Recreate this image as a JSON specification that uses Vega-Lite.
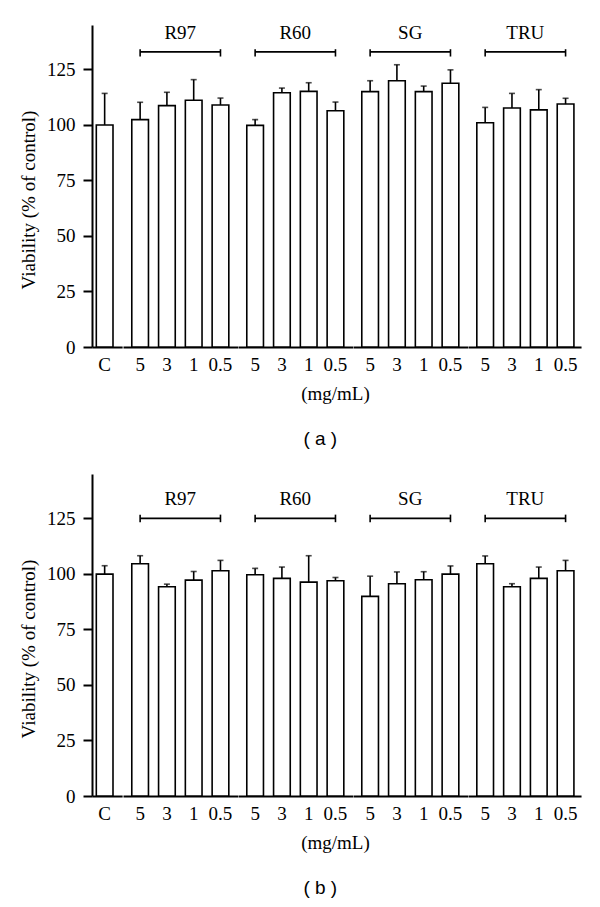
{
  "$schema": "https://vega.github.io/schema/vega-lite/v6.json",
  "padding": {"top": 23, "left": 19, "right": 0, "bottom": 0},
  "spacing": 25,
  "datasets": {
    "a": [
      {"group": "C", "dose": "C", "mean": 100.0, "upper": 114.2},
      {"group": "R97", "dose": "5", "mean": 102.4, "upper": 110.2},
      {"group": "R97", "dose": "3", "mean": 108.7, "upper": 114.7},
      {"group": "R97", "dose": "1", "mean": 111.1, "upper": 120.4},
      {"group": "R97", "dose": "0.5", "mean": 109.0, "upper": 112.1},
      {"group": "R60", "dose": "5", "mean": 99.8, "upper": 102.4},
      {"group": "R60", "dose": "3", "mean": 114.5, "upper": 116.6},
      {"group": "R60", "dose": "1", "mean": 115.1, "upper": 119.0},
      {"group": "R60", "dose": "0.5", "mean": 106.4, "upper": 110.3},
      {"group": "SG", "dose": "5", "mean": 115.0, "upper": 119.9},
      {"group": "SG", "dose": "3", "mean": 119.9, "upper": 127.1},
      {"group": "SG", "dose": "1", "mean": 115.0, "upper": 117.5},
      {"group": "SG", "dose": "0.5", "mean": 118.8, "upper": 124.8},
      {"group": "TRU", "dose": "5", "mean": 101.0, "upper": 107.9},
      {"group": "TRU", "dose": "3", "mean": 107.6, "upper": 114.2},
      {"group": "TRU", "dose": "1", "mean": 106.8, "upper": 115.9},
      {"group": "TRU", "dose": "0.5", "mean": 109.4, "upper": 112.0}
    ],
    "b": [
      {"group": "C", "dose": "C", "mean": 99.9, "upper": 103.7},
      {"group": "R97", "dose": "5", "mean": 104.6, "upper": 108.2},
      {"group": "R97", "dose": "3", "mean": 94.2, "upper": 95.4},
      {"group": "R97", "dose": "1", "mean": 97.2, "upper": 101.1},
      {"group": "R97", "dose": "0.5", "mean": 101.4, "upper": 106.1},
      {"group": "R60", "dose": "5", "mean": 99.6, "upper": 102.5},
      {"group": "R60", "dose": "3", "mean": 98.0, "upper": 103.1},
      {"group": "R60", "dose": "1", "mean": 96.3, "upper": 108.2},
      {"group": "R60", "dose": "0.5", "mean": 96.9, "upper": 98.4},
      {"group": "SG", "dose": "5", "mean": 89.9, "upper": 99.0},
      {"group": "SG", "dose": "3", "mean": 95.6, "upper": 100.9},
      {"group": "SG", "dose": "1", "mean": 97.4, "upper": 101.0},
      {"group": "SG", "dose": "0.5", "mean": 99.9, "upper": 103.6},
      {"group": "TRU", "dose": "5", "mean": 104.6, "upper": 108.1},
      {"group": "TRU", "dose": "3", "mean": 94.2, "upper": 95.6},
      {"group": "TRU", "dose": "1", "mean": 98.0, "upper": 103.1},
      {"group": "TRU", "dose": "0.5", "mean": 101.4, "upper": 106.1}
    ]
  },
  "vconcat": [
    {
      "spacing": 0,
      "bounds": "flush",
      "title": {"text": "( a )", "orient": "bottom", "anchor": "middle", "font": "Liberation Sans", "fontSize": 19, "fontWeight": "normal", "color": "black", "offset": 27, "dx": 20},
      "hconcat": [
        {
          "width": 30.15, "height": 322,
          "data": {"name": "a"},
          "transform": [{"filter": "datum.group === 'C'"}],
          "encoding": {"x": {"field": "dose", "type": "nominal", "scale": {"domain": ["C"], "paddingInner": 0, "paddingOuter": 0.403, "align": 0.32}, "axis": {"title": null}}},
          "layer": [
            {"mark": {"type": "bar", "fill": "white", "stroke": "black", "strokeWidth": 1.6},
             "encoding": {"y": {"field": "mean", "type": "quantitative", "scale": {"domain": [0, 145], "nice": false}, "axis": {"title": "Viability (% of control)", "values": [0, 25, 50, 75, 100, 125], "tickSize": 9, "labelPadding": 8, "titlePadding": 8, "titleY": 174.5}}}},
            {"mark": {"type": "rule", "color": "black", "strokeWidth": 1.6},
             "encoding": {"y": {"field": "mean", "type": "quantitative", "scale": {"domain": [0, 145], "nice": false}}, "y2": {"field": "upper"}}},
            {"mark": {"type": "tick", "orient": "horizontal", "color": "black", "size": 6, "thickness": 1.6},
             "encoding": {"y": {"field": "upper", "type": "quantitative", "scale": {"domain": [0, 145], "nice": false}}}}
          ]
        },
        {
          "width": 114.6, "height": 322,
          "data": {"name": "a"},
          "transform": [{"filter": "datum.group === 'R97'"}],
          "encoding": {"x": {"field": "dose", "type": "nominal", "scale": {"domain": ["5", "3", "1", "0.5"], "paddingInner": 0.377, "paddingOuter": 0.328}, "axis": {"title": null}}},
          "layer": [
            {"mark": {"type": "bar", "fill": "white", "stroke": "black", "strokeWidth": 1.6},
             "encoding": {"y": {"field": "mean", "type": "quantitative", "scale": {"domain": [0, 145], "nice": false}, "axis": null}}},
            {"mark": {"type": "rule", "color": "black", "strokeWidth": 1.6},
             "encoding": {"y": {"field": "mean", "type": "quantitative", "scale": {"domain": [0, 145], "nice": false}, "axis": null}, "y2": {"field": "upper"}}},
            {"mark": {"type": "tick", "orient": "horizontal", "color": "black", "size": 6, "thickness": 1.6},
             "encoding": {"y": {"field": "upper", "type": "quantitative", "scale": {"domain": [0, 145], "nice": false}, "axis": null}}},
            {"transform": [{"filter": "datum.dose === '5' || datum.dose === '0.5'"}],
             "mark": {"type": "line", "color": "black", "strokeWidth": 1.6},
             "encoding": {"y": {"datum": 132.9, "type": "quantitative", "scale": {"domain": [0, 145], "nice": false}, "axis": null}}},
            {"transform": [{"filter": "datum.dose === '5' || datum.dose === '0.5'"}],
             "mark": {"type": "rule", "color": "black", "strokeWidth": 1.6},
             "encoding": {"y": {"datum": 130.8, "type": "quantitative", "scale": {"domain": [0, 145], "nice": false}, "axis": null}, "y2": {"datum": 134.1}}},
            {"transform": [{"filter": "datum.dose === '3'"}],
             "mark": {"type": "text", "font": "Liberation Serif", "fontSize": 19, "baseline": "middle", "color": "black"},
             "encoding": {"x": {"field": "dose", "type": "nominal", "bandPosition": 1.3, "scale": {"domain": ["5", "3", "1", "0.5"]}}, "y": {"datum": 141.4, "type": "quantitative", "scale": {"domain": [0, 145], "nice": false}, "axis": null}, "text": {"field": "group"}}}
          ]
        },
        {
          "width": 114.6, "height": 322,
          "data": {"name": "a"},
          "transform": [{"filter": "datum.group === 'R60'"}],
          "encoding": {"x": {"field": "dose", "type": "nominal", "scale": {"domain": ["5", "3", "1", "0.5"], "paddingInner": 0.377, "paddingOuter": 0.328}, "axis": {"title": "(mg/mL)", "titleX": 97, "titlePadding": 10}}},
          "layer": [
            {"mark": {"type": "bar", "fill": "white", "stroke": "black", "strokeWidth": 1.6},
             "encoding": {"y": {"field": "mean", "type": "quantitative", "scale": {"domain": [0, 145], "nice": false}, "axis": null}}},
            {"mark": {"type": "rule", "color": "black", "strokeWidth": 1.6},
             "encoding": {"y": {"field": "mean", "type": "quantitative", "scale": {"domain": [0, 145], "nice": false}, "axis": null}, "y2": {"field": "upper"}}},
            {"mark": {"type": "tick", "orient": "horizontal", "color": "black", "size": 6, "thickness": 1.6},
             "encoding": {"y": {"field": "upper", "type": "quantitative", "scale": {"domain": [0, 145], "nice": false}, "axis": null}}},
            {"transform": [{"filter": "datum.dose === '5' || datum.dose === '0.5'"}],
             "mark": {"type": "line", "color": "black", "strokeWidth": 1.6},
             "encoding": {"y": {"datum": 132.9, "type": "quantitative", "scale": {"domain": [0, 145], "nice": false}, "axis": null}}},
            {"transform": [{"filter": "datum.dose === '5' || datum.dose === '0.5'"}],
             "mark": {"type": "rule", "color": "black", "strokeWidth": 1.6},
             "encoding": {"y": {"datum": 130.8, "type": "quantitative", "scale": {"domain": [0, 145], "nice": false}, "axis": null}, "y2": {"datum": 134.1}}},
            {"transform": [{"filter": "datum.dose === '3'"}],
             "mark": {"type": "text", "font": "Liberation Serif", "fontSize": 19, "baseline": "middle", "color": "black"},
             "encoding": {"x": {"field": "dose", "type": "nominal", "bandPosition": 1.3, "scale": {"domain": ["5", "3", "1", "0.5"]}}, "y": {"datum": 141.4, "type": "quantitative", "scale": {"domain": [0, 145], "nice": false}, "axis": null}, "text": {"field": "group"}}}
          ]
        },
        {
          "width": 114.6, "height": 322,
          "data": {"name": "a"},
          "transform": [{"filter": "datum.group === 'SG'"}],
          "encoding": {"x": {"field": "dose", "type": "nominal", "scale": {"domain": ["5", "3", "1", "0.5"], "paddingInner": 0.377, "paddingOuter": 0.328}, "axis": {"title": null}}},
          "layer": [
            {"mark": {"type": "bar", "fill": "white", "stroke": "black", "strokeWidth": 1.6},
             "encoding": {"y": {"field": "mean", "type": "quantitative", "scale": {"domain": [0, 145], "nice": false}, "axis": null}}},
            {"mark": {"type": "rule", "color": "black", "strokeWidth": 1.6},
             "encoding": {"y": {"field": "mean", "type": "quantitative", "scale": {"domain": [0, 145], "nice": false}, "axis": null}, "y2": {"field": "upper"}}},
            {"mark": {"type": "tick", "orient": "horizontal", "color": "black", "size": 6, "thickness": 1.6},
             "encoding": {"y": {"field": "upper", "type": "quantitative", "scale": {"domain": [0, 145], "nice": false}, "axis": null}}},
            {"transform": [{"filter": "datum.dose === '5' || datum.dose === '0.5'"}],
             "mark": {"type": "line", "color": "black", "strokeWidth": 1.6},
             "encoding": {"y": {"datum": 132.9, "type": "quantitative", "scale": {"domain": [0, 145], "nice": false}, "axis": null}}},
            {"transform": [{"filter": "datum.dose === '5' || datum.dose === '0.5'"}],
             "mark": {"type": "rule", "color": "black", "strokeWidth": 1.6},
             "encoding": {"y": {"datum": 130.8, "type": "quantitative", "scale": {"domain": [0, 145], "nice": false}, "axis": null}, "y2": {"datum": 134.1}}},
            {"transform": [{"filter": "datum.dose === '3'"}],
             "mark": {"type": "text", "font": "Liberation Serif", "fontSize": 19, "baseline": "middle", "color": "black"},
             "encoding": {"x": {"field": "dose", "type": "nominal", "bandPosition": 1.3, "scale": {"domain": ["5", "3", "1", "0.5"]}}, "y": {"datum": 141.4, "type": "quantitative", "scale": {"domain": [0, 145], "nice": false}, "axis": null}, "text": {"field": "group"}}}
          ]
        },
        {
          "width": 113.05, "height": 322,
          "data": {"name": "a"},
          "transform": [{"filter": "datum.group === 'TRU'"}],
          "encoding": {"x": {"field": "dose", "type": "nominal", "scale": {"domain": ["5", "3", "1", "0.5"], "paddingInner": 0.377, "paddingOuter": 0.2975, "align": 0.553}, "axis": {"title": null}}},
          "layer": [
            {"mark": {"type": "bar", "fill": "white", "stroke": "black", "strokeWidth": 1.6},
             "encoding": {"y": {"field": "mean", "type": "quantitative", "scale": {"domain": [0, 145], "nice": false}, "axis": null}}},
            {"mark": {"type": "rule", "color": "black", "strokeWidth": 1.6},
             "encoding": {"y": {"field": "mean", "type": "quantitative", "scale": {"domain": [0, 145], "nice": false}, "axis": null}, "y2": {"field": "upper"}}},
            {"mark": {"type": "tick", "orient": "horizontal", "color": "black", "size": 6, "thickness": 1.6},
             "encoding": {"y": {"field": "upper", "type": "quantitative", "scale": {"domain": [0, 145], "nice": false}, "axis": null}}},
            {"transform": [{"filter": "datum.dose === '5' || datum.dose === '0.5'"}],
             "mark": {"type": "line", "color": "black", "strokeWidth": 1.6},
             "encoding": {"y": {"datum": 132.9, "type": "quantitative", "scale": {"domain": [0, 145], "nice": false}, "axis": null}}},
            {"transform": [{"filter": "datum.dose === '5' || datum.dose === '0.5'"}],
             "mark": {"type": "rule", "color": "black", "strokeWidth": 1.6},
             "encoding": {"y": {"datum": 130.8, "type": "quantitative", "scale": {"domain": [0, 145], "nice": false}, "axis": null}, "y2": {"datum": 134.1}}},
            {"transform": [{"filter": "datum.dose === '3'"}],
             "mark": {"type": "text", "font": "Liberation Serif", "fontSize": 19, "baseline": "middle", "color": "black"},
             "encoding": {"x": {"field": "dose", "type": "nominal", "bandPosition": 1.3, "scale": {"domain": ["5", "3", "1", "0.5"]}}, "y": {"datum": 141.4, "type": "quantitative", "scale": {"domain": [0, 145], "nice": false}, "axis": null}, "text": {"field": "group"}}}
          ]
        }
      ]
    },
    {
      "spacing": 0,
      "bounds": "flush",
      "title": {"text": "( b )", "orient": "bottom", "anchor": "middle", "font": "Liberation Sans", "fontSize": 19, "fontWeight": "normal", "color": "black", "offset": 27, "dx": 20},
      "hconcat": [
        {
          "width": 30.15, "height": 322,
          "data": {"name": "b"},
          "transform": [{"filter": "datum.group === 'C'"}],
          "encoding": {"x": {"field": "dose", "type": "nominal", "scale": {"domain": ["C"], "paddingInner": 0, "paddingOuter": 0.403, "align": 0.32}, "axis": {"title": null}}},
          "layer": [
            {"mark": {"type": "bar", "fill": "white", "stroke": "black", "strokeWidth": 1.6},
             "encoding": {"y": {"field": "mean", "type": "quantitative", "scale": {"domain": [0, 145], "nice": false}, "axis": {"title": "Viability (% of control)", "values": [0, 25, 50, 75, 100, 125], "tickSize": 9, "labelPadding": 8, "titlePadding": 8, "titleY": 174.5}}}},
            {"mark": {"type": "rule", "color": "black", "strokeWidth": 1.6},
             "encoding": {"y": {"field": "mean", "type": "quantitative", "scale": {"domain": [0, 145], "nice": false}}, "y2": {"field": "upper"}}},
            {"mark": {"type": "tick", "orient": "horizontal", "color": "black", "size": 6, "thickness": 1.6},
             "encoding": {"y": {"field": "upper", "type": "quantitative", "scale": {"domain": [0, 145], "nice": false}}}}
          ]
        },
        {
          "width": 114.6, "height": 322,
          "data": {"name": "b"},
          "transform": [{"filter": "datum.group === 'R97'"}],
          "encoding": {"x": {"field": "dose", "type": "nominal", "scale": {"domain": ["5", "3", "1", "0.5"], "paddingInner": 0.377, "paddingOuter": 0.328}, "axis": {"title": null}}},
          "layer": [
            {"mark": {"type": "bar", "fill": "white", "stroke": "black", "strokeWidth": 1.6},
             "encoding": {"y": {"field": "mean", "type": "quantitative", "scale": {"domain": [0, 145], "nice": false}, "axis": null}}},
            {"mark": {"type": "rule", "color": "black", "strokeWidth": 1.6},
             "encoding": {"y": {"field": "mean", "type": "quantitative", "scale": {"domain": [0, 145], "nice": false}, "axis": null}, "y2": {"field": "upper"}}},
            {"mark": {"type": "tick", "orient": "horizontal", "color": "black", "size": 6, "thickness": 1.6},
             "encoding": {"y": {"field": "upper", "type": "quantitative", "scale": {"domain": [0, 145], "nice": false}, "axis": null}}},
            {"transform": [{"filter": "datum.dose === '5' || datum.dose === '0.5'"}],
             "mark": {"type": "line", "color": "black", "strokeWidth": 1.6},
             "encoding": {"y": {"datum": 125.0, "type": "quantitative", "scale": {"domain": [0, 145], "nice": false}, "axis": null}}},
            {"transform": [{"filter": "datum.dose === '5' || datum.dose === '0.5'"}],
             "mark": {"type": "rule", "color": "black", "strokeWidth": 1.6},
             "encoding": {"y": {"datum": 123.3, "type": "quantitative", "scale": {"domain": [0, 145], "nice": false}, "axis": null}, "y2": {"datum": 126.7}}},
            {"transform": [{"filter": "datum.dose === '3'"}],
             "mark": {"type": "text", "font": "Liberation Serif", "fontSize": 19, "baseline": "middle", "color": "black"},
             "encoding": {"x": {"field": "dose", "type": "nominal", "bandPosition": 1.3, "scale": {"domain": ["5", "3", "1", "0.5"]}}, "y": {"datum": 133.6, "type": "quantitative", "scale": {"domain": [0, 145], "nice": false}, "axis": null}, "text": {"field": "group"}}}
          ]
        },
        {
          "width": 114.6, "height": 322,
          "data": {"name": "b"},
          "transform": [{"filter": "datum.group === 'R60'"}],
          "encoding": {"x": {"field": "dose", "type": "nominal", "scale": {"domain": ["5", "3", "1", "0.5"], "paddingInner": 0.377, "paddingOuter": 0.328}, "axis": {"title": "(mg/mL)", "titleX": 97, "titlePadding": 10}}},
          "layer": [
            {"mark": {"type": "bar", "fill": "white", "stroke": "black", "strokeWidth": 1.6},
             "encoding": {"y": {"field": "mean", "type": "quantitative", "scale": {"domain": [0, 145], "nice": false}, "axis": null}}},
            {"mark": {"type": "rule", "color": "black", "strokeWidth": 1.6},
             "encoding": {"y": {"field": "mean", "type": "quantitative", "scale": {"domain": [0, 145], "nice": false}, "axis": null}, "y2": {"field": "upper"}}},
            {"mark": {"type": "tick", "orient": "horizontal", "color": "black", "size": 6, "thickness": 1.6},
             "encoding": {"y": {"field": "upper", "type": "quantitative", "scale": {"domain": [0, 145], "nice": false}, "axis": null}}},
            {"transform": [{"filter": "datum.dose === '5' || datum.dose === '0.5'"}],
             "mark": {"type": "line", "color": "black", "strokeWidth": 1.6},
             "encoding": {"y": {"datum": 125.0, "type": "quantitative", "scale": {"domain": [0, 145], "nice": false}, "axis": null}}},
            {"transform": [{"filter": "datum.dose === '5' || datum.dose === '0.5'"}],
             "mark": {"type": "rule", "color": "black", "strokeWidth": 1.6},
             "encoding": {"y": {"datum": 123.3, "type": "quantitative", "scale": {"domain": [0, 145], "nice": false}, "axis": null}, "y2": {"datum": 126.7}}},
            {"transform": [{"filter": "datum.dose === '3'"}],
             "mark": {"type": "text", "font": "Liberation Serif", "fontSize": 19, "baseline": "middle", "color": "black"},
             "encoding": {"x": {"field": "dose", "type": "nominal", "bandPosition": 1.3, "scale": {"domain": ["5", "3", "1", "0.5"]}}, "y": {"datum": 133.6, "type": "quantitative", "scale": {"domain": [0, 145], "nice": false}, "axis": null}, "text": {"field": "group"}}}
          ]
        },
        {
          "width": 114.6, "height": 322,
          "data": {"name": "b"},
          "transform": [{"filter": "datum.group === 'SG'"}],
          "encoding": {"x": {"field": "dose", "type": "nominal", "scale": {"domain": ["5", "3", "1", "0.5"], "paddingInner": 0.377, "paddingOuter": 0.328}, "axis": {"title": null}}},
          "layer": [
            {"mark": {"type": "bar", "fill": "white", "stroke": "black", "strokeWidth": 1.6},
             "encoding": {"y": {"field": "mean", "type": "quantitative", "scale": {"domain": [0, 145], "nice": false}, "axis": null}}},
            {"mark": {"type": "rule", "color": "black", "strokeWidth": 1.6},
             "encoding": {"y": {"field": "mean", "type": "quantitative", "scale": {"domain": [0, 145], "nice": false}, "axis": null}, "y2": {"field": "upper"}}},
            {"mark": {"type": "tick", "orient": "horizontal", "color": "black", "size": 6, "thickness": 1.6},
             "encoding": {"y": {"field": "upper", "type": "quantitative", "scale": {"domain": [0, 145], "nice": false}, "axis": null}}},
            {"transform": [{"filter": "datum.dose === '5' || datum.dose === '0.5'"}],
             "mark": {"type": "line", "color": "black", "strokeWidth": 1.6},
             "encoding": {"y": {"datum": 125.0, "type": "quantitative", "scale": {"domain": [0, 145], "nice": false}, "axis": null}}},
            {"transform": [{"filter": "datum.dose === '5' || datum.dose === '0.5'"}],
             "mark": {"type": "rule", "color": "black", "strokeWidth": 1.6},
             "encoding": {"y": {"datum": 123.3, "type": "quantitative", "scale": {"domain": [0, 145], "nice": false}, "axis": null}, "y2": {"datum": 126.7}}},
            {"transform": [{"filter": "datum.dose === '3'"}],
             "mark": {"type": "text", "font": "Liberation Serif", "fontSize": 19, "baseline": "middle", "color": "black"},
             "encoding": {"x": {"field": "dose", "type": "nominal", "bandPosition": 1.3, "scale": {"domain": ["5", "3", "1", "0.5"]}}, "y": {"datum": 133.6, "type": "quantitative", "scale": {"domain": [0, 145], "nice": false}, "axis": null}, "text": {"field": "group"}}}
          ]
        },
        {
          "width": 113.05, "height": 322,
          "data": {"name": "b"},
          "transform": [{"filter": "datum.group === 'TRU'"}],
          "encoding": {"x": {"field": "dose", "type": "nominal", "scale": {"domain": ["5", "3", "1", "0.5"], "paddingInner": 0.377, "paddingOuter": 0.2975, "align": 0.553}, "axis": {"title": null}}},
          "layer": [
            {"mark": {"type": "bar", "fill": "white", "stroke": "black", "strokeWidth": 1.6},
             "encoding": {"y": {"field": "mean", "type": "quantitative", "scale": {"domain": [0, 145], "nice": false}, "axis": null}}},
            {"mark": {"type": "rule", "color": "black", "strokeWidth": 1.6},
             "encoding": {"y": {"field": "mean", "type": "quantitative", "scale": {"domain": [0, 145], "nice": false}, "axis": null}, "y2": {"field": "upper"}}},
            {"mark": {"type": "tick", "orient": "horizontal", "color": "black", "size": 6, "thickness": 1.6},
             "encoding": {"y": {"field": "upper", "type": "quantitative", "scale": {"domain": [0, 145], "nice": false}, "axis": null}}},
            {"transform": [{"filter": "datum.dose === '5' || datum.dose === '0.5'"}],
             "mark": {"type": "line", "color": "black", "strokeWidth": 1.6},
             "encoding": {"y": {"datum": 125.0, "type": "quantitative", "scale": {"domain": [0, 145], "nice": false}, "axis": null}}},
            {"transform": [{"filter": "datum.dose === '5' || datum.dose === '0.5'"}],
             "mark": {"type": "rule", "color": "black", "strokeWidth": 1.6},
             "encoding": {"y": {"datum": 123.3, "type": "quantitative", "scale": {"domain": [0, 145], "nice": false}, "axis": null}, "y2": {"datum": 126.7}}},
            {"transform": [{"filter": "datum.dose === '3'"}],
             "mark": {"type": "text", "font": "Liberation Serif", "fontSize": 19, "baseline": "middle", "color": "black"},
             "encoding": {"x": {"field": "dose", "type": "nominal", "bandPosition": 1.3, "scale": {"domain": ["5", "3", "1", "0.5"]}}, "y": {"datum": 133.6, "type": "quantitative", "scale": {"domain": [0, 145], "nice": false}, "axis": null}, "text": {"field": "group"}}}
          ]
        }
      ]
    }
  ],
  "config": {
    "view": {"stroke": null},
    "axis": {"grid": false, "domainColor": "black", "domainWidth": 2, "tickColor": "black", "tickWidth": 2, "labelColor": "black", "titleColor": "black", "labelFont": "Liberation Serif", "labelFontSize": 19, "titleFont": "Liberation Serif", "titleFontSize": 19, "titleFontWeight": "normal"},
    "axisX": {"ticks": false, "tickSize": 0, "labelPadding": 8, "labelAngle": 0}
  }
}
